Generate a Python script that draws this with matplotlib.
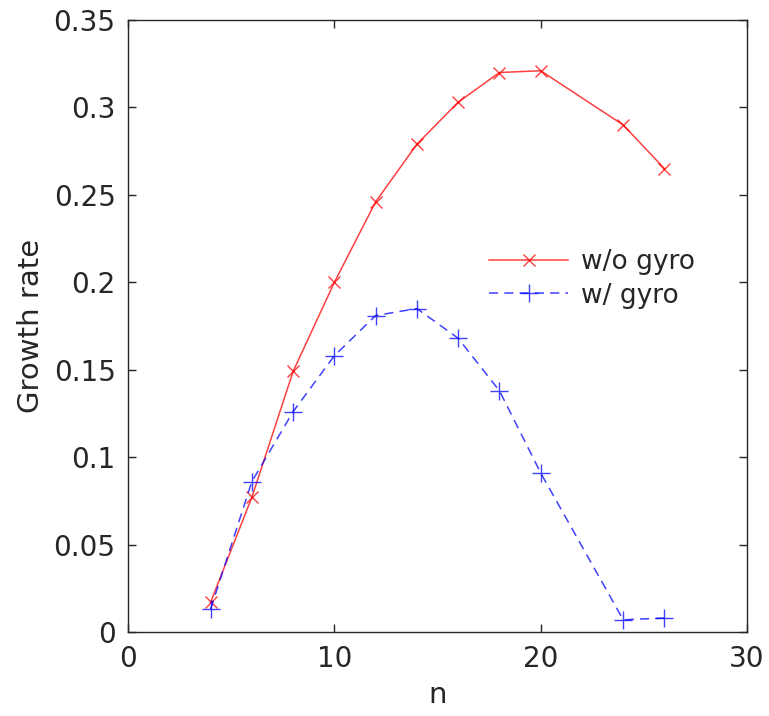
import matplotlib.pyplot as plt
import numpy as np

n_red = [4, 6, 8, 10, 12, 14, 16, 18, 20, 24, 26]
rate_no_gyro = [0.017, 0.077, 0.149, 0.200, 0.246, 0.279, 0.303, 0.320, 0.321, 0.290, 0.265]
n_blue = [4, 6, 8, 10, 12, 14, 16, 18, 20, 24, 26]
rate_gyro = [0.013, 0.086, 0.126, 0.158, 0.181, 0.185, 0.168, 0.138, 0.091, 0.007, 0.008]

xticks = [0, 10, 20, 30]
yticks = [0, 0.05, 0.1, 0.15, 0.2, 0.25, 0.3, 0.35]
ytick_labels = ['0', '0.05', '0.1', '0.15', '0.2', '0.25', '0.3', '0.35']

fig = plt.figure(figsize=(7.69, 7.16), dpi=100)
ax = fig.add_axes([0.1665, 0.1173, 0.8049, 0.8547])

ax.plot(n_red, rate_no_gyro, color='red', marker='x', markersize=9, linewidth=1.1,
        alpha=0.75, label='w/o gyro')
ax.plot(n_blue, rate_gyro, color='blue', marker='+', markersize=13, linewidth=1.1,
        linestyle=(0, (6, 4)), alpha=0.75, label='w/ gyro')

ax.set_xlim(0, 30)
ax.set_ylim(0, 0.35)
ax.set_xticks(xticks)
ax.set_yticks(yticks)
ax.set_yticklabels(ytick_labels)
ax.tick_params(direction='in', length=6, width=1, colors='#262626', labelsize=20,
               top=True, right=True, pad=9)
for s in ax.spines.values():
    s.set_color('#262626')
    s.set_linewidth(1)

ax.set_xlabel('n', fontsize=21, color='#262626', labelpad=6)
ax.set_ylabel('Growth rate', fontsize=21, color='#262626', labelpad=6)

leg = ax.legend(loc='upper left', bbox_to_anchor=(0.545, 0.665), frameon=False,
                fontsize=19, handlelength=3.0, labelspacing=0.3, handletextpad=0.5)
for t in leg.get_texts():
    t.set_color('#262626')

fig.savefig('out.png', dpi=100)
